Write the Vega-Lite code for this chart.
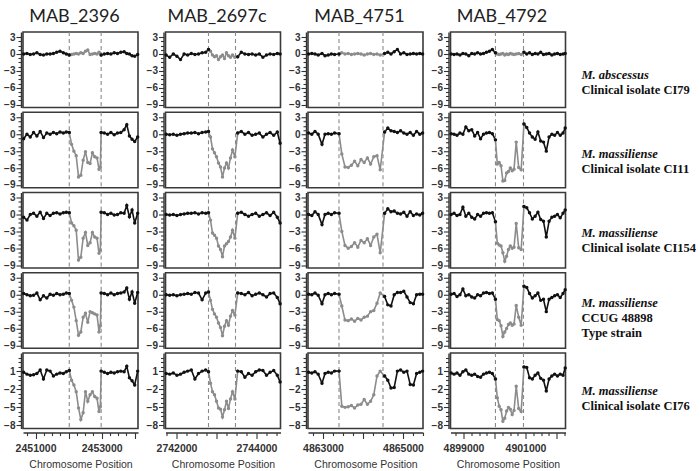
{
"$schema":"https://vega.github.io/schema/vega-lite/v6.json",
"padding":{"left":2,"top":7,"right":0,"bottom":0},
"datasets":{
"d1":[{"x":2452020},{"x":2452985}],
"d2":[{"x":2742800},{"x":2743475}],
"d3":[{"x":4863400},{"x":4864500}],
"d4":[{"x":4900030},{"x":4900935}],
"lab":[
{"r":"1","sp":["M. abscessus","\u00a0"],"st":["\u00a0","Clinical isolate CI79"]},
{"r":"2","sp":["M. massiliense","\u00a0"],"st":["\u00a0","Clinical isolate CI11"]},
{"r":"3","sp":["M. massiliense","\u00a0"],"st":["\u00a0","Clinical isolate CI154"]},
{"r":"4","sp":["M. massiliense","\u00a0","\u00a0"],"st":["\u00a0","CCUG 48898","Type strain"]},
{"r":"5","sp":["M. massiliense","\u00a0"],"st":["\u00a0","Clinical isolate CI76"]}
],
"p11":[{"x":2450640,"y":0,"s":"a"},{"x":2450740,"y":0.1,"s":"a"},{"x":2450840,"y":-0.1,"s":"a"},{"x":2450940,"y":0,"s":"a"},{"x":2451040,"y":0.2,"s":"a"},{"x":2451140,"y":-0.1,"s":"a"},{"x":2451240,"y":-0.2,"s":"a"},{"x":2451340,"y":0,"s":"a"},{"x":2451440,"y":0,"s":"a"},{"x":2451540,"y":0.1,"s":"a"},{"x":2451640,"y":0.3,"s":"a"},{"x":2451740,"y":0.5,"s":"a"},{"x":2451840,"y":0.2,"s":"a"},{"x":2451930,"y":0,"s":"a"},{"x":2452020,"y":-0.2,"s":"a"},
{"x":2452020,"y":-0.2,"s":"g"},{"x":2452090,"y":-0.1,"s":"g"},{"x":2452160,"y":0,"s":"g"},{"x":2452230,"y":0.1,"s":"g"},{"x":2452300,"y":0,"s":"g"},{"x":2452370,"y":0.2,"s":"g"},{"x":2452440,"y":0.1,"s":"g"},{"x":2452510,"y":0.5,"s":"g"},{"x":2452580,"y":0.7,"s":"g"},{"x":2452650,"y":-0.1,"s":"g"},{"x":2452720,"y":0,"s":"g"},{"x":2452790,"y":0.1,"s":"g"},{"x":2452860,"y":0,"s":"g"},{"x":2452920,"y":0.3,"s":"g"},{"x":2452960,"y":0.1,"s":"g"},{"x":2452985,"y":-0.2,"s":"g"},
{"x":2452985,"y":-0.2,"s":"b"},{"x":2453080,"y":0,"s":"b"},{"x":2453180,"y":0.1,"s":"b"},{"x":2453280,"y":0,"s":"b"},{"x":2453380,"y":0.2,"s":"b"},{"x":2453480,"y":0.1,"s":"b"},{"x":2453580,"y":0.3,"s":"b"},{"x":2453680,"y":0.4,"s":"b"},{"x":2453760,"y":0.1,"s":"b"},{"x":2453840,"y":0,"s":"b"},{"x":2453920,"y":-0.3,"s":"b"},{"x":2454000,"y":-0.4,"s":"b"},{"x":2454090,"y":-0.1,"s":"b"}],
"p21":[{"x":2450640,"y":-0.8,"s":"a"},{"x":2450740,"y":0,"s":"a"},{"x":2450840,"y":-0.5,"s":"a"},{"x":2450940,"y":0.3,"s":"a"},{"x":2451040,"y":-0.3,"s":"a"},{"x":2451140,"y":0.5,"s":"a"},{"x":2451240,"y":-0.6,"s":"a"},{"x":2451340,"y":0.2,"s":"a"},{"x":2451440,"y":0,"s":"a"},{"x":2451540,"y":0.3,"s":"a"},{"x":2451640,"y":0.1,"s":"a"},{"x":2451740,"y":0.4,"s":"a"},{"x":2451840,"y":0.2,"s":"a"},{"x":2451930,"y":0.4,"s":"a"},{"x":2452020,"y":0.3,"s":"a"},
{"x":2452020,"y":0.3,"s":"g"},{"x":2452090,"y":-1.8,"s":"g"},{"x":2452160,"y":-3.0,"s":"g"},{"x":2452230,"y":-3.8,"s":"g"},{"x":2452300,"y":-7.6,"s":"g"},{"x":2452370,"y":-7.3,"s":"g"},{"x":2452440,"y":-4.6,"s":"g"},{"x":2452510,"y":-3.1,"s":"g"},{"x":2452580,"y":-5.0,"s":"g"},{"x":2452650,"y":-5.2,"s":"g"},{"x":2452720,"y":-3.3,"s":"g"},{"x":2452790,"y":-4.0,"s":"g"},{"x":2452860,"y":-4.2,"s":"g"},{"x":2452920,"y":-6.2,"s":"g"},{"x":2452960,"y":-5.8,"s":"g"},{"x":2452985,"y":0.3,"s":"g"},
{"x":2452985,"y":0.3,"s":"b"},{"x":2453080,"y":0.2,"s":"b"},{"x":2453180,"y":0,"s":"b"},{"x":2453280,"y":0.3,"s":"b"},{"x":2453380,"y":-0.1,"s":"b"},{"x":2453480,"y":0.2,"s":"b"},{"x":2453580,"y":0.3,"s":"b"},{"x":2453680,"y":0.8,"s":"b"},{"x":2453760,"y":1.7,"s":"b"},{"x":2453840,"y":-0.3,"s":"b"},{"x":2453920,"y":-0.9,"s":"b"},{"x":2454000,"y":-1.3,"s":"b"},{"x":2454090,"y":-0.5,"s":"b"}],
"p31":[{"x":2450640,"y":-0.5,"s":"a"},{"x":2450740,"y":-1.0,"s":"a"},{"x":2450840,"y":0,"s":"a"},{"x":2450940,"y":0.2,"s":"a"},{"x":2451040,"y":-0.3,"s":"a"},{"x":2451140,"y":0.4,"s":"a"},{"x":2451240,"y":-0.7,"s":"a"},{"x":2451340,"y":0.2,"s":"a"},{"x":2451440,"y":-0.2,"s":"a"},{"x":2451540,"y":0.2,"s":"a"},{"x":2451640,"y":0.3,"s":"a"},{"x":2451740,"y":0.1,"s":"a"},{"x":2451840,"y":0.3,"s":"a"},{"x":2451930,"y":0.4,"s":"a"},{"x":2452020,"y":0.3,"s":"a"},
{"x":2452020,"y":0.3,"s":"g"},{"x":2452090,"y":-1.5,"s":"g"},{"x":2452160,"y":-2.0,"s":"g"},{"x":2452230,"y":-2.8,"s":"g"},{"x":2452300,"y":-8.1,"s":"g"},{"x":2452370,"y":-7.6,"s":"g"},{"x":2452440,"y":-4.2,"s":"g"},{"x":2452510,"y":-3.2,"s":"g"},{"x":2452580,"y":-5.5,"s":"g"},{"x":2452650,"y":-5.0,"s":"g"},{"x":2452720,"y":-3.2,"s":"g"},{"x":2452790,"y":-4.0,"s":"g"},{"x":2452860,"y":-4.2,"s":"g"},{"x":2452920,"y":-6.9,"s":"g"},{"x":2452960,"y":-6.3,"s":"g"},{"x":2452985,"y":0.4,"s":"g"},
{"x":2452985,"y":0.4,"s":"b"},{"x":2453080,"y":0.3,"s":"b"},{"x":2453180,"y":0,"s":"b"},{"x":2453280,"y":0.2,"s":"b"},{"x":2453380,"y":-0.1,"s":"b"},{"x":2453480,"y":0,"s":"b"},{"x":2453580,"y":0.3,"s":"b"},{"x":2453680,"y":0.2,"s":"b"},{"x":2453760,"y":1.6,"s":"b"},{"x":2453840,"y":-0.4,"s":"b"},{"x":2453920,"y":0.8,"s":"b"},{"x":2454000,"y":-1.5,"s":"b"},{"x":2454090,"y":0.2,"s":"b"}],
"p41":[{"x":2450640,"y":0.2,"s":"a"},{"x":2450740,"y":0,"s":"a"},{"x":2450840,"y":-0.2,"s":"a"},{"x":2450940,"y":-0.1,"s":"a"},{"x":2451040,"y":0.3,"s":"a"},{"x":2451140,"y":-0.9,"s":"a"},{"x":2451240,"y":-0.2,"s":"a"},{"x":2451340,"y":-0.6,"s":"a"},{"x":2451440,"y":0.1,"s":"a"},{"x":2451540,"y":-0.1,"s":"a"},{"x":2451640,"y":0.2,"s":"a"},{"x":2451740,"y":0,"s":"a"},{"x":2451840,"y":0.1,"s":"a"},{"x":2451930,"y":0.3,"s":"a"},{"x":2452020,"y":0.2,"s":"a"},
{"x":2452020,"y":0.2,"s":"g"},{"x":2452090,"y":-1.0,"s":"g"},{"x":2452160,"y":-2.2,"s":"g"},{"x":2452230,"y":-4.6,"s":"g"},{"x":2452300,"y":-7.2,"s":"g"},{"x":2452370,"y":-6.6,"s":"g"},{"x":2452440,"y":-4.0,"s":"g"},{"x":2452510,"y":-3.3,"s":"g"},{"x":2452580,"y":-4.9,"s":"g"},{"x":2452650,"y":-3.0,"s":"g"},{"x":2452720,"y":-3.2,"s":"g"},{"x":2452790,"y":-3.4,"s":"g"},{"x":2452860,"y":-3.6,"s":"g"},{"x":2452920,"y":-6.6,"s":"g"},{"x":2452960,"y":-5.5,"s":"g"},{"x":2452985,"y":0.3,"s":"g"},
{"x":2452985,"y":0.3,"s":"b"},{"x":2453080,"y":0.2,"s":"b"},{"x":2453180,"y":0,"s":"b"},{"x":2453280,"y":0.3,"s":"b"},{"x":2453380,"y":0,"s":"b"},{"x":2453480,"y":0.2,"s":"b"},{"x":2453580,"y":0.3,"s":"b"},{"x":2453680,"y":0.5,"s":"b"},{"x":2453760,"y":1.2,"s":"b"},{"x":2453840,"y":-0.8,"s":"b"},{"x":2453920,"y":0.5,"s":"b"},{"x":2454000,"y":-1.5,"s":"b"},{"x":2454090,"y":0.4,"s":"b"}],
"p51":[{"x":2450640,"y":0.8,"s":"a"},{"x":2450740,"y":0.5,"s":"a"},{"x":2450840,"y":0.3,"s":"a"},{"x":2450940,"y":0.4,"s":"a"},{"x":2451040,"y":0.6,"s":"a"},{"x":2451140,"y":1.2,"s":"a"},{"x":2451240,"y":-0.3,"s":"a"},{"x":2451340,"y":1.2,"s":"a"},{"x":2451440,"y":1.0,"s":"a"},{"x":2451540,"y":0.2,"s":"a"},{"x":2451640,"y":0.5,"s":"a"},{"x":2451740,"y":0.7,"s":"a"},{"x":2451840,"y":0.6,"s":"a"},{"x":2451930,"y":0.9,"s":"a"},{"x":2452020,"y":1.1,"s":"a"},
{"x":2452020,"y":1.1,"s":"g"},{"x":2452090,"y":-0.5,"s":"g"},{"x":2452160,"y":-1.3,"s":"g"},{"x":2452230,"y":-2.4,"s":"g"},{"x":2452300,"y":-5.1,"s":"g"},{"x":2452370,"y":-7.0,"s":"g"},{"x":2452440,"y":-5.9,"s":"g"},{"x":2452510,"y":-2.4,"s":"g"},{"x":2452580,"y":-4.0,"s":"g"},{"x":2452650,"y":-2.9,"s":"g"},{"x":2452720,"y":-2.4,"s":"g"},{"x":2452790,"y":-3.2,"s":"g"},{"x":2452860,"y":-3.5,"s":"g"},{"x":2452920,"y":-5.7,"s":"g"},{"x":2452960,"y":-4.9,"s":"g"},{"x":2452985,"y":1.0,"s":"g"},
{"x":2452985,"y":1.0,"s":"b"},{"x":2453080,"y":0.8,"s":"b"},{"x":2453180,"y":0.6,"s":"b"},{"x":2453280,"y":0.8,"s":"b"},{"x":2453380,"y":0.7,"s":"b"},{"x":2453480,"y":0.9,"s":"b"},{"x":2453580,"y":1.0,"s":"b"},{"x":2453680,"y":0.9,"s":"b"},{"x":2453760,"y":1.8,"s":"b"},{"x":2453840,"y":-0.1,"s":"b"},{"x":2453920,"y":-0.6,"s":"b"},{"x":2454000,"y":-1.3,"s":"b"},{"x":2454090,"y":1.0,"s":"b"}],
"p12":[{"x":2741740,"y":-0.2,"s":"a"},{"x":2741830,"y":-0.6,"s":"a"},{"x":2741920,"y":0,"s":"a"},{"x":2742010,"y":-0.4,"s":"a"},{"x":2742100,"y":-1.0,"s":"a"},{"x":2742190,"y":0,"s":"a"},{"x":2742280,"y":-0.2,"s":"a"},{"x":2742370,"y":0.1,"s":"a"},{"x":2742460,"y":-0.1,"s":"a"},{"x":2742550,"y":0,"s":"a"},{"x":2742640,"y":0.2,"s":"a"},{"x":2742730,"y":0.3,"s":"a"},{"x":2742800,"y":0.8,"s":"a"},
{"x":2742800,"y":0.8,"s":"g"},{"x":2742850,"y":0.5,"s":"g"},{"x":2742900,"y":-0.2,"s":"g"},{"x":2742950,"y":-0.5,"s":"g"},{"x":2743000,"y":-0.3,"s":"g"},{"x":2743050,"y":-1.0,"s":"g"},{"x":2743100,"y":-0.5,"s":"g"},{"x":2743150,"y":-0.2,"s":"g"},{"x":2743200,"y":-0.8,"s":"g"},{"x":2743250,"y":0.2,"s":"g"},{"x":2743300,"y":-0.3,"s":"g"},{"x":2743350,"y":-0.6,"s":"g"},{"x":2743400,"y":-0.2,"s":"g"},{"x":2743460,"y":-0.6,"s":"g"},{"x":2743530,"y":-0.5,"s":"g"},
{"x":2743530,"y":-0.5,"s":"b"},{"x":2743620,"y":0.3,"s":"b"},{"x":2743710,"y":0,"s":"b"},{"x":2743800,"y":-0.1,"s":"b"},{"x":2743890,"y":0,"s":"b"},{"x":2743980,"y":-0.2,"s":"b"},{"x":2744070,"y":0,"s":"b"},{"x":2744160,"y":-0.6,"s":"b"},{"x":2744250,"y":-0.2,"s":"b"},{"x":2744340,"y":0,"s":"b"},{"x":2744430,"y":-0.1,"s":"b"},{"x":2744520,"y":0.1,"s":"b"},{"x":2744590,"y":0,"s":"b"}],
"p22":[{"x":2741740,"y":0,"s":"a"},{"x":2741830,"y":-0.1,"s":"a"},{"x":2741920,"y":0,"s":"a"},{"x":2742010,"y":-0.2,"s":"a"},{"x":2742100,"y":0,"s":"a"},{"x":2742190,"y":0.1,"s":"a"},{"x":2742280,"y":0.2,"s":"a"},{"x":2742370,"y":0.2,"s":"a"},{"x":2742460,"y":0.3,"s":"a"},{"x":2742550,"y":0.1,"s":"a"},{"x":2742640,"y":0.3,"s":"a"},{"x":2742730,"y":0.4,"s":"a"},{"x":2742800,"y":0.5,"s":"a"},
{"x":2742800,"y":0.5,"s":"g"},{"x":2742850,"y":-0.5,"s":"g"},{"x":2742900,"y":-2.6,"s":"g"},{"x":2742950,"y":-3.3,"s":"g"},{"x":2743000,"y":-4.0,"s":"g"},{"x":2743050,"y":-5.1,"s":"g"},{"x":2743100,"y":-5.8,"s":"g"},{"x":2743150,"y":-7.6,"s":"g"},{"x":2743200,"y":-6.0,"s":"g"},{"x":2743250,"y":-5.1,"s":"g"},{"x":2743300,"y":-6.0,"s":"g"},{"x":2743350,"y":-4.2,"s":"g"},{"x":2743400,"y":-2.8,"s":"g"},{"x":2743460,"y":-4.0,"s":"g"},{"x":2743530,"y":0.2,"s":"g"},
{"x":2743530,"y":0.2,"s":"b"},{"x":2743620,"y":0.5,"s":"b"},{"x":2743710,"y":0,"s":"b"},{"x":2743800,"y":0.3,"s":"b"},{"x":2743890,"y":-0.2,"s":"b"},{"x":2743980,"y":0,"s":"b"},{"x":2744070,"y":0.2,"s":"b"},{"x":2744160,"y":-0.5,"s":"b"},{"x":2744250,"y":0,"s":"b"},{"x":2744340,"y":0.3,"s":"b"},{"x":2744430,"y":-0.2,"s":"b"},{"x":2744520,"y":0.4,"s":"b"},{"x":2744590,"y":-1.6,"s":"b"}],
"p32":[{"x":2741740,"y":0,"s":"a"},{"x":2741830,"y":-0.1,"s":"a"},{"x":2741920,"y":0,"s":"a"},{"x":2742010,"y":-0.2,"s":"a"},{"x":2742100,"y":0,"s":"a"},{"x":2742190,"y":0.1,"s":"a"},{"x":2742280,"y":0.2,"s":"a"},{"x":2742370,"y":0.2,"s":"a"},{"x":2742460,"y":0.3,"s":"a"},{"x":2742550,"y":0.1,"s":"a"},{"x":2742640,"y":0.3,"s":"a"},{"x":2742730,"y":0.2,"s":"a"},{"x":2742800,"y":0.3,"s":"a"},
{"x":2742800,"y":0.3,"s":"g"},{"x":2742850,"y":-1.0,"s":"g"},{"x":2742900,"y":-3.3,"s":"g"},{"x":2742950,"y":-3.7,"s":"g"},{"x":2743000,"y":-4.2,"s":"g"},{"x":2743050,"y":-5.6,"s":"g"},{"x":2743100,"y":-6.2,"s":"g"},{"x":2743150,"y":-7.5,"s":"g"},{"x":2743200,"y":-5.6,"s":"g"},{"x":2743250,"y":-5.2,"s":"g"},{"x":2743300,"y":-4.8,"s":"g"},{"x":2743350,"y":-4.0,"s":"g"},{"x":2743400,"y":-2.8,"s":"g"},{"x":2743460,"y":-4.2,"s":"g"},{"x":2743530,"y":0.2,"s":"g"},
{"x":2743530,"y":0.2,"s":"b"},{"x":2743620,"y":0.4,"s":"b"},{"x":2743710,"y":0,"s":"b"},{"x":2743800,"y":-0.3,"s":"b"},{"x":2743890,"y":0,"s":"b"},{"x":2743980,"y":0.2,"s":"b"},{"x":2744070,"y":-0.3,"s":"b"},{"x":2744160,"y":0,"s":"b"},{"x":2744250,"y":0.3,"s":"b"},{"x":2744340,"y":-0.2,"s":"b"},{"x":2744430,"y":0.4,"s":"b"},{"x":2744520,"y":-0.5,"s":"b"},{"x":2744590,"y":-1.5,"s":"b"}],
"p42":[{"x":2741740,"y":0,"s":"a"},{"x":2741830,"y":-0.1,"s":"a"},{"x":2741920,"y":0,"s":"a"},{"x":2742010,"y":-0.2,"s":"a"},{"x":2742100,"y":0,"s":"a"},{"x":2742190,"y":0.1,"s":"a"},{"x":2742280,"y":0.2,"s":"a"},{"x":2742370,"y":0.1,"s":"a"},{"x":2742460,"y":0.4,"s":"a"},{"x":2742550,"y":0.3,"s":"a"},{"x":2742640,"y":-0.9,"s":"a"},{"x":2742730,"y":0.3,"s":"a"},{"x":2742800,"y":0.5,"s":"a"},
{"x":2742800,"y":0.5,"s":"g"},{"x":2742850,"y":-1.0,"s":"g"},{"x":2742900,"y":-2.6,"s":"g"},{"x":2742950,"y":-3.4,"s":"g"},{"x":2743000,"y":-4.0,"s":"g"},{"x":2743050,"y":-5.0,"s":"g"},{"x":2743100,"y":-5.8,"s":"g"},{"x":2743150,"y":-7.3,"s":"g"},{"x":2743200,"y":-5.6,"s":"g"},{"x":2743250,"y":-4.6,"s":"g"},{"x":2743300,"y":-5.4,"s":"g"},{"x":2743350,"y":-3.8,"s":"g"},{"x":2743400,"y":-2.8,"s":"g"},{"x":2743460,"y":-3.6,"s":"g"},{"x":2743530,"y":0.3,"s":"g"},
{"x":2743530,"y":0.3,"s":"b"},{"x":2743620,"y":0.2,"s":"b"},{"x":2743710,"y":0,"s":"b"},{"x":2743800,"y":0.4,"s":"b"},{"x":2743890,"y":-0.2,"s":"b"},{"x":2743980,"y":0.1,"s":"b"},{"x":2744070,"y":0.3,"s":"b"},{"x":2744160,"y":0,"s":"b"},{"x":2744250,"y":-0.4,"s":"b"},{"x":2744340,"y":0.2,"s":"b"},{"x":2744430,"y":0.3,"s":"b"},{"x":2744520,"y":-0.5,"s":"b"},{"x":2744590,"y":-1.6,"s":"b"}],
"p52":[{"x":2741740,"y":0.6,"s":"a"},{"x":2741830,"y":0.5,"s":"a"},{"x":2741920,"y":0.7,"s":"a"},{"x":2742010,"y":0.3,"s":"a"},{"x":2742100,"y":0.5,"s":"a"},{"x":2742190,"y":0.8,"s":"a"},{"x":2742280,"y":1.0,"s":"a"},{"x":2742370,"y":1.2,"s":"a"},{"x":2742460,"y":-0.3,"s":"a"},{"x":2742550,"y":0.6,"s":"a"},{"x":2742640,"y":1.0,"s":"a"},{"x":2742730,"y":1.2,"s":"a"},{"x":2742800,"y":0.9,"s":"a"},
{"x":2742800,"y":0.9,"s":"g"},{"x":2742850,"y":-1.0,"s":"g"},{"x":2742900,"y":-2.4,"s":"g"},{"x":2742950,"y":-2.9,"s":"g"},{"x":2743000,"y":-4.0,"s":"g"},{"x":2743050,"y":-5.1,"s":"g"},{"x":2743100,"y":-5.3,"s":"g"},{"x":2743150,"y":-6.6,"s":"g"},{"x":2743200,"y":-5.4,"s":"g"},{"x":2743250,"y":-4.0,"s":"g"},{"x":2743300,"y":-5.2,"s":"g"},{"x":2743350,"y":-3.6,"s":"g"},{"x":2743400,"y":-2.4,"s":"g"},{"x":2743460,"y":-3.6,"s":"g"},{"x":2743530,"y":1.0,"s":"g"},
{"x":2743530,"y":1.0,"s":"b"},{"x":2743620,"y":0.9,"s":"b"},{"x":2743710,"y":0,"s":"b"},{"x":2743800,"y":0.6,"s":"b"},{"x":2743890,"y":0.3,"s":"b"},{"x":2743980,"y":0.9,"s":"b"},{"x":2744070,"y":1.2,"s":"b"},{"x":2744160,"y":1.1,"s":"b"},{"x":2744250,"y":0.3,"s":"b"},{"x":2744340,"y":0.8,"s":"b"},{"x":2744430,"y":1.1,"s":"b"},{"x":2744520,"y":0.3,"s":"b"},{"x":2744590,"y":-0.8,"s":"b"}],
"p13":[{"x":4862640,"y":0,"s":"a"},{"x":4862720,"y":0.1,"s":"a"},{"x":4862800,"y":0,"s":"a"},{"x":4862880,"y":-0.2,"s":"a"},{"x":4862975,"y":0.1,"s":"a"},{"x":4863050,"y":-0.3,"s":"a"},{"x":4863130,"y":-0.2,"s":"a"},{"x":4863210,"y":0,"s":"a"},{"x":4863290,"y":-0.1,"s":"a"},{"x":4863400,"y":0,"s":"a"},
{"x":4863400,"y":0,"s":"g"},{"x":4863470,"y":0.2,"s":"g"},{"x":4863550,"y":0,"s":"g"},{"x":4863630,"y":0.1,"s":"g"},{"x":4863710,"y":-0.1,"s":"g"},{"x":4863790,"y":0,"s":"g"},{"x":4863870,"y":0.1,"s":"g"},{"x":4863950,"y":0,"s":"g"},{"x":4864030,"y":-0.2,"s":"g"},{"x":4864110,"y":0,"s":"g"},{"x":4864190,"y":0.1,"s":"g"},{"x":4864270,"y":-0.1,"s":"g"},{"x":4864350,"y":0,"s":"g"},{"x":4864430,"y":-0.2,"s":"g"},{"x":4864540,"y":0.1,"s":"g"},
{"x":4864540,"y":0.1,"s":"b"},{"x":4864620,"y":0.3,"s":"b"},{"x":4864700,"y":0,"s":"b"},{"x":4864780,"y":0.4,"s":"b"},{"x":4864860,"y":0.8,"s":"b"},{"x":4864940,"y":0,"s":"b"},{"x":4865020,"y":0.2,"s":"b"},{"x":4865100,"y":-0.1,"s":"b"},{"x":4865180,"y":0,"s":"b"},{"x":4865260,"y":0.1,"s":"b"},{"x":4865340,"y":0,"s":"b"},{"x":4865420,"y":0.1,"s":"b"},{"x":4865490,"y":0,"s":"b"}],
"p23":[{"x":4862640,"y":0.2,"s":"a"},{"x":4862720,"y":0,"s":"a"},{"x":4862800,"y":0.5,"s":"a"},{"x":4862880,"y":0,"s":"a"},{"x":4862975,"y":-1.8,"s":"a"},{"x":4863050,"y":0,"s":"a"},{"x":4863130,"y":0.1,"s":"a"},{"x":4863210,"y":0,"s":"a"},{"x":4863290,"y":0.2,"s":"a"},{"x":4863400,"y":0.1,"s":"a"},
{"x":4863400,"y":0.1,"s":"g"},{"x":4863470,"y":-3.5,"s":"g"},{"x":4863550,"y":-5.8,"s":"g"},{"x":4863630,"y":-5.9,"s":"g"},{"x":4863710,"y":-5.5,"s":"g"},{"x":4863790,"y":-4.8,"s":"g"},{"x":4863870,"y":-5.6,"s":"g"},{"x":4863950,"y":-4.5,"s":"g"},{"x":4864030,"y":-5.0,"s":"g"},{"x":4864110,"y":-4.2,"s":"g"},{"x":4864190,"y":-5.3,"s":"g"},{"x":4864270,"y":-4.0,"s":"g"},{"x":4864350,"y":-3.8,"s":"g"},{"x":4864430,"y":-6.3,"s":"g"},{"x":4864540,"y":0.4,"s":"g"},
{"x":4864540,"y":0.4,"s":"b"},{"x":4864620,"y":1.1,"s":"b"},{"x":4864700,"y":0.6,"s":"b"},{"x":4864780,"y":0.5,"s":"b"},{"x":4864860,"y":0.3,"s":"b"},{"x":4864940,"y":0.6,"s":"b"},{"x":4865020,"y":0.2,"s":"b"},{"x":4865100,"y":0,"s":"b"},{"x":4865180,"y":0.3,"s":"b"},{"x":4865260,"y":-0.2,"s":"b"},{"x":4865340,"y":0.5,"s":"b"},{"x":4865420,"y":0,"s":"b"},{"x":4865490,"y":0.2,"s":"b"}],
"p33":[{"x":4862640,"y":0,"s":"a"},{"x":4862720,"y":-0.2,"s":"a"},{"x":4862800,"y":0.5,"s":"a"},{"x":4862880,"y":0,"s":"a"},{"x":4862975,"y":-1.8,"s":"a"},{"x":4863050,"y":0,"s":"a"},{"x":4863130,"y":0.2,"s":"a"},{"x":4863210,"y":0,"s":"a"},{"x":4863290,"y":0.3,"s":"a"},{"x":4863400,"y":0.2,"s":"a"},
{"x":4863400,"y":0.2,"s":"g"},{"x":4863470,"y":-3.0,"s":"g"},{"x":4863550,"y":-5.5,"s":"g"},{"x":4863630,"y":-6.0,"s":"g"},{"x":4863710,"y":-5.7,"s":"g"},{"x":4863790,"y":-5.0,"s":"g"},{"x":4863870,"y":-5.8,"s":"g"},{"x":4863950,"y":-4.6,"s":"g"},{"x":4864030,"y":-5.0,"s":"g"},{"x":4864110,"y":-4.3,"s":"g"},{"x":4864190,"y":-5.5,"s":"g"},{"x":4864270,"y":-4.0,"s":"g"},{"x":4864350,"y":-3.5,"s":"g"},{"x":4864430,"y":-6.8,"s":"g"},{"x":4864540,"y":0.2,"s":"g"},
{"x":4864540,"y":0.2,"s":"b"},{"x":4864620,"y":1.0,"s":"b"},{"x":4864700,"y":0.5,"s":"b"},{"x":4864780,"y":0.6,"s":"b"},{"x":4864860,"y":0.2,"s":"b"},{"x":4864940,"y":0.1,"s":"b"},{"x":4865020,"y":0.4,"s":"b"},{"x":4865100,"y":-0.3,"s":"b"},{"x":4865180,"y":0.5,"s":"b"},{"x":4865260,"y":-0.2,"s":"b"},{"x":4865340,"y":0.1,"s":"b"},{"x":4865420,"y":-0.1,"s":"b"},{"x":4865490,"y":0.2,"s":"b"}],
"p43":[{"x":4862640,"y":0.1,"s":"a"},{"x":4862720,"y":0,"s":"a"},{"x":4862800,"y":0.3,"s":"a"},{"x":4862880,"y":-0.1,"s":"a"},{"x":4862975,"y":-1.6,"s":"a"},{"x":4863050,"y":0,"s":"a"},{"x":4863130,"y":0.2,"s":"a"},{"x":4863210,"y":0,"s":"a"},{"x":4863290,"y":0.2,"s":"a"},{"x":4863400,"y":0.1,"s":"a"},
{"x":4863400,"y":0.1,"s":"g"},{"x":4863470,"y":-2.0,"s":"g"},{"x":4863550,"y":-4.5,"s":"g"},{"x":4863630,"y":-4.6,"s":"g"},{"x":4863710,"y":-4.3,"s":"g"},{"x":4863790,"y":-4.7,"s":"g"},{"x":4863870,"y":-4.2,"s":"g"},{"x":4863950,"y":-4.5,"s":"g"},{"x":4864030,"y":-4.0,"s":"g"},{"x":4864110,"y":-3.8,"s":"g"},{"x":4864190,"y":-3.0,"s":"g"},{"x":4864270,"y":-2.8,"s":"g"},{"x":4864350,"y":-1.5,"s":"g"},{"x":4864430,"y":0.3,"s":"g"},{"x":4864540,"y":-0.3,"s":"g"},
{"x":4864540,"y":-0.3,"s":"b"},{"x":4864620,"y":-1.8,"s":"b"},{"x":4864700,"y":-2.0,"s":"b"},{"x":4864780,"y":0,"s":"b"},{"x":4864860,"y":0.4,"s":"b"},{"x":4864940,"y":0.4,"s":"b"},{"x":4865020,"y":0.6,"s":"b"},{"x":4865100,"y":-0.4,"s":"b"},{"x":4865180,"y":-1.4,"s":"b"},{"x":4865260,"y":-1.6,"s":"b"},{"x":4865340,"y":0,"s":"b"},{"x":4865420,"y":0.1,"s":"b"},{"x":4865490,"y":0.1,"s":"b"}],
"p53":[{"x":4862640,"y":0.8,"s":"a"},{"x":4862720,"y":0.7,"s":"a"},{"x":4862800,"y":0.9,"s":"a"},{"x":4862880,"y":0.5,"s":"a"},{"x":4862975,"y":-1.0,"s":"a"},{"x":4863050,"y":0.6,"s":"a"},{"x":4863130,"y":0.8,"s":"a"},{"x":4863210,"y":0.7,"s":"a"},{"x":4863290,"y":1.0,"s":"a"},{"x":4863400,"y":1.0,"s":"a"},
{"x":4863400,"y":1.0,"s":"g"},{"x":4863470,"y":-4.8,"s":"g"},{"x":4863550,"y":-5.0,"s":"g"},{"x":4863630,"y":-4.9,"s":"g"},{"x":4863710,"y":-4.7,"s":"g"},{"x":4863790,"y":-5.1,"s":"g"},{"x":4863870,"y":-4.6,"s":"g"},{"x":4863950,"y":-4.5,"s":"g"},{"x":4864030,"y":-3.7,"s":"g"},{"x":4864110,"y":-4.5,"s":"g"},{"x":4864190,"y":-4.0,"s":"g"},{"x":4864270,"y":-2.9,"s":"g"},{"x":4864350,"y":0.2,"s":"g"},{"x":4864430,"y":1.0,"s":"g"},{"x":4864540,"y":0.2,"s":"g"},
{"x":4864540,"y":0.2,"s":"b"},{"x":4864620,"y":-0.5,"s":"b"},{"x":4864700,"y":-1.8,"s":"b"},{"x":4864780,"y":-1.7,"s":"b"},{"x":4864860,"y":1.0,"s":"b"},{"x":4864940,"y":1.2,"s":"b"},{"x":4865020,"y":0.8,"s":"b"},{"x":4865100,"y":1.0,"s":"b"},{"x":4865180,"y":-1.2,"s":"b"},{"x":4865260,"y":-1.3,"s":"b"},{"x":4865340,"y":0.6,"s":"b"},{"x":4865420,"y":0.8,"s":"b"},{"x":4865490,"y":1.0,"s":"b"}],
"p14":[{"x":4898600,"y":0,"s":"a"},{"x":4898695,"y":-0.1,"s":"a"},{"x":4898790,"y":0,"s":"a"},{"x":4898885,"y":-0.2,"s":"a"},{"x":4898980,"y":0.1,"s":"a"},{"x":4899075,"y":0,"s":"a"},{"x":4899170,"y":-0.3,"s":"a"},{"x":4899265,"y":0.1,"s":"a"},{"x":4899360,"y":0,"s":"a"},{"x":4899455,"y":0.2,"s":"a"},{"x":4899550,"y":0,"s":"a"},{"x":4899645,"y":0.1,"s":"a"},{"x":4899740,"y":0.3,"s":"a"},{"x":4899835,"y":0.5,"s":"a"},{"x":4899930,"y":0.8,"s":"a"},{"x":4900030,"y":0.2,"s":"a"},
{"x":4900030,"y":0.2,"s":"g"},{"x":4900090,"y":0,"s":"g"},{"x":4900150,"y":-0.1,"s":"g"},{"x":4900210,"y":0,"s":"g"},{"x":4900270,"y":0.1,"s":"g"},{"x":4900330,"y":-0.2,"s":"g"},{"x":4900390,"y":0,"s":"g"},{"x":4900450,"y":-0.1,"s":"g"},{"x":4900510,"y":0.1,"s":"g"},{"x":4900570,"y":0,"s":"g"},{"x":4900630,"y":-0.1,"s":"g"},{"x":4900700,"y":0,"s":"g"},{"x":4900780,"y":0.1,"s":"g"},{"x":4900860,"y":-0.1,"s":"g"},{"x":4900950,"y":0.3,"s":"g"},
{"x":4900950,"y":0.3,"s":"b"},{"x":4901040,"y":0,"s":"b"},{"x":4901130,"y":0.2,"s":"b"},{"x":4901220,"y":-0.1,"s":"b"},{"x":4901310,"y":0.1,"s":"b"},{"x":4901400,"y":0,"s":"b"},{"x":4901490,"y":0.3,"s":"b"},{"x":4901580,"y":-0.1,"s":"b"},{"x":4901670,"y":0,"s":"b"},{"x":4901760,"y":0.1,"s":"b"},{"x":4901850,"y":-0.2,"s":"b"},{"x":4901940,"y":0,"s":"b"},{"x":4902030,"y":0.1,"s":"b"},{"x":4902120,"y":-0.1,"s":"b"},{"x":4902210,"y":0,"s":"b"},{"x":4902280,"y":0.1,"s":"b"}],
"p24":[{"x":4898600,"y":0.1,"s":"a"},{"x":4898695,"y":0,"s":"a"},{"x":4898790,"y":-0.2,"s":"a"},{"x":4898885,"y":0.2,"s":"a"},{"x":4898980,"y":0,"s":"a"},{"x":4899075,"y":1.3,"s":"a"},{"x":4899170,"y":0.6,"s":"a"},{"x":4899265,"y":0.8,"s":"a"},{"x":4899360,"y":-0.3,"s":"a"},{"x":4899455,"y":0.3,"s":"a"},{"x":4899550,"y":-0.8,"s":"a"},{"x":4899645,"y":0,"s":"a"},{"x":4899740,"y":0.2,"s":"a"},{"x":4899835,"y":0.3,"s":"a"},{"x":4899930,"y":0.1,"s":"a"},{"x":4900030,"y":-1.0,"s":"a"},
{"x":4900030,"y":-1.0,"s":"g"},{"x":4900090,"y":-5.3,"s":"g"},{"x":4900150,"y":-5.0,"s":"g"},{"x":4900210,"y":-5.6,"s":"g"},{"x":4900270,"y":-8.3,"s":"g"},{"x":4900330,"y":-8.2,"s":"g"},{"x":4900390,"y":-6.9,"s":"g"},{"x":4900450,"y":-6.6,"s":"g"},{"x":4900510,"y":-6.0,"s":"g"},{"x":4900570,"y":-6.5,"s":"g"},{"x":4900630,"y":-6.2,"s":"g"},{"x":4900700,"y":-1.4,"s":"g"},{"x":4900780,"y":-5.9,"s":"g"},{"x":4900860,"y":-6.3,"s":"g"},{"x":4900950,"y":1.8,"s":"g"},
{"x":4900950,"y":1.8,"s":"b"},{"x":4901040,"y":1.2,"s":"b"},{"x":4901130,"y":0.2,"s":"b"},{"x":4901220,"y":-0.5,"s":"b"},{"x":4901310,"y":-0.9,"s":"b"},{"x":4901400,"y":0.4,"s":"b"},{"x":4901490,"y":-1.2,"s":"b"},{"x":4901580,"y":-1.4,"s":"b"},{"x":4901670,"y":-3.0,"s":"b"},{"x":4901760,"y":-0.5,"s":"b"},{"x":4901850,"y":0,"s":"b"},{"x":4901940,"y":-0.2,"s":"b"},{"x":4902030,"y":0.3,"s":"b"},{"x":4902120,"y":-0.2,"s":"b"},{"x":4902210,"y":0.2,"s":"b"},{"x":4902280,"y":1.1,"s":"b"}],
"p34":[{"x":4898600,"y":0,"s":"a"},{"x":4898695,"y":0.2,"s":"a"},{"x":4898790,"y":-0.2,"s":"a"},{"x":4898885,"y":0,"s":"a"},{"x":4898980,"y":1.3,"s":"a"},{"x":4899075,"y":-0.3,"s":"a"},{"x":4899170,"y":0.2,"s":"a"},{"x":4899265,"y":-0.5,"s":"a"},{"x":4899360,"y":-0.8,"s":"a"},{"x":4899455,"y":0,"s":"a"},{"x":4899550,"y":-0.3,"s":"a"},{"x":4899645,"y":0.2,"s":"a"},{"x":4899740,"y":0.3,"s":"a"},{"x":4899835,"y":0.2,"s":"a"},{"x":4899930,"y":0.3,"s":"a"},{"x":4900030,"y":-1.3,"s":"a"},
{"x":4900030,"y":-1.3,"s":"g"},{"x":4900090,"y":-5.1,"s":"g"},{"x":4900150,"y":-5.4,"s":"g"},{"x":4900210,"y":-5.6,"s":"g"},{"x":4900270,"y":-6.8,"s":"g"},{"x":4900330,"y":-8.3,"s":"g"},{"x":4900390,"y":-7.4,"s":"g"},{"x":4900450,"y":-6.2,"s":"g"},{"x":4900510,"y":-5.6,"s":"g"},{"x":4900570,"y":-6.0,"s":"g"},{"x":4900630,"y":-5.8,"s":"g"},{"x":4900700,"y":-1.6,"s":"g"},{"x":4900780,"y":-5.9,"s":"g"},{"x":4900860,"y":-6.2,"s":"g"},{"x":4900950,"y":1.4,"s":"g"},
{"x":4900950,"y":1.4,"s":"b"},{"x":4901040,"y":1.2,"s":"b"},{"x":4901130,"y":0.3,"s":"b"},{"x":4901220,"y":-0.8,"s":"b"},{"x":4901310,"y":-0.3,"s":"b"},{"x":4901400,"y":0.4,"s":"b"},{"x":4901490,"y":-0.9,"s":"b"},{"x":4901580,"y":-1.2,"s":"b"},{"x":4901670,"y":-4.0,"s":"b"},{"x":4901760,"y":-1.2,"s":"b"},{"x":4901850,"y":-0.5,"s":"b"},{"x":4901940,"y":-0.3,"s":"b"},{"x":4902030,"y":0,"s":"b"},{"x":4902120,"y":-0.6,"s":"b"},{"x":4902210,"y":0.2,"s":"b"},{"x":4902280,"y":0.8,"s":"b"}],
"p44":[{"x":4898600,"y":0.1,"s":"a"},{"x":4898695,"y":0.2,"s":"a"},{"x":4898790,"y":-0.3,"s":"a"},{"x":4898885,"y":0,"s":"a"},{"x":4898980,"y":1.0,"s":"a"},{"x":4899075,"y":-0.2,"s":"a"},{"x":4899170,"y":0,"s":"a"},{"x":4899265,"y":-0.4,"s":"a"},{"x":4899360,"y":-0.6,"s":"a"},{"x":4899455,"y":0,"s":"a"},{"x":4899550,"y":-0.2,"s":"a"},{"x":4899645,"y":0.3,"s":"a"},{"x":4899740,"y":0.4,"s":"a"},{"x":4899835,"y":0.2,"s":"a"},{"x":4899930,"y":0.3,"s":"a"},{"x":4900030,"y":-0.8,"s":"a"},
{"x":4900030,"y":-0.8,"s":"g"},{"x":4900090,"y":-4.4,"s":"g"},{"x":4900150,"y":-4.6,"s":"g"},{"x":4900210,"y":-5.5,"s":"g"},{"x":4900270,"y":-7.4,"s":"g"},{"x":4900330,"y":-6.6,"s":"g"},{"x":4900390,"y":-6.0,"s":"g"},{"x":4900450,"y":-5.3,"s":"g"},{"x":4900510,"y":-5.0,"s":"g"},{"x":4900570,"y":-5.4,"s":"g"},{"x":4900630,"y":-5.2,"s":"g"},{"x":4900700,"y":-1.9,"s":"g"},{"x":4900780,"y":-4.0,"s":"g"},{"x":4900860,"y":-5.4,"s":"g"},{"x":4900950,"y":1.5,"s":"g"},
{"x":4900950,"y":1.5,"s":"b"},{"x":4901040,"y":1.3,"s":"b"},{"x":4901130,"y":0.2,"s":"b"},{"x":4901220,"y":-0.6,"s":"b"},{"x":4901310,"y":-0.2,"s":"b"},{"x":4901400,"y":0.3,"s":"b"},{"x":4901490,"y":-1.0,"s":"b"},{"x":4901580,"y":-0.8,"s":"b"},{"x":4901670,"y":-3.0,"s":"b"},{"x":4901760,"y":-0.8,"s":"b"},{"x":4901850,"y":-0.5,"s":"b"},{"x":4901940,"y":-0.2,"s":"b"},{"x":4902030,"y":0,"s":"b"},{"x":4902120,"y":-0.5,"s":"b"},{"x":4902210,"y":0.2,"s":"b"},{"x":4902280,"y":0.9,"s":"b"}],
"p54":[{"x":4898600,"y":0.7,"s":"a"},{"x":4898695,"y":0.5,"s":"a"},{"x":4898790,"y":0.7,"s":"a"},{"x":4898885,"y":0.3,"s":"a"},{"x":4898980,"y":0.9,"s":"a"},{"x":4899075,"y":1.2,"s":"a"},{"x":4899170,"y":0.5,"s":"a"},{"x":4899265,"y":0.3,"s":"a"},{"x":4899360,"y":0.5,"s":"a"},{"x":4899455,"y":0.1,"s":"a"},{"x":4899550,"y":0,"s":"a"},{"x":4899645,"y":0.5,"s":"a"},{"x":4899740,"y":0.7,"s":"a"},{"x":4899835,"y":0.8,"s":"a"},{"x":4899930,"y":0.6,"s":"a"},{"x":4900030,"y":-0.3,"s":"a"},
{"x":4900030,"y":-0.3,"s":"g"},{"x":4900090,"y":-3.4,"s":"g"},{"x":4900150,"y":-4.8,"s":"g"},{"x":4900210,"y":-5.4,"s":"g"},{"x":4900270,"y":-7.3,"s":"g"},{"x":4900330,"y":-6.8,"s":"g"},{"x":4900390,"y":-5.6,"s":"g"},{"x":4900450,"y":-5.0,"s":"g"},{"x":4900510,"y":-5.3,"s":"g"},{"x":4900570,"y":-6.2,"s":"g"},{"x":4900630,"y":-5.5,"s":"g"},{"x":4900700,"y":-1.5,"s":"g"},{"x":4900780,"y":-5.2,"s":"g"},{"x":4900860,"y":-5.7,"s":"g"},{"x":4900950,"y":1.7,"s":"g"},
{"x":4900950,"y":1.7,"s":"b"},{"x":4901040,"y":1.6,"s":"b"},{"x":4901130,"y":-0.1,"s":"b"},{"x":4901220,"y":-0.3,"s":"b"},{"x":4901310,"y":0.3,"s":"b"},{"x":4901400,"y":0.7,"s":"b"},{"x":4901490,"y":-0.2,"s":"b"},{"x":4901580,"y":-0.5,"s":"b"},{"x":4901670,"y":-2.3,"s":"b"},{"x":4901760,"y":-0.3,"s":"b"},{"x":4901850,"y":0.2,"s":"b"},{"x":4901940,"y":0.5,"s":"b"},{"x":4902030,"y":0.2,"s":"b"},{"x":4902120,"y":0.5,"s":"b"},{"x":4902210,"y":0.3,"s":"b"},{"x":4902280,"y":1.5,"s":"b"}]
},
"hconcat":[
{"hconcat":[
{"vconcat":[
{"title":"MAB_2396","width":115,"height":75.5,"data":{"name":"p11"},"encoding":{"x":{"field":"x","type":"quantitative","scale":{"domain":[2450620,2454100],"nice":false},"axis":null}},"layer":[{"data":{"name":"d1"},"mark":"rule","encoding":{}},{"mark":"line","encoding":{"y":{"field":"y","type":"quantitative","title":null,"scale":{"domain":[-9.5,3.9],"nice":false},"axis":{"values":[-9,-8.25,-7.5,-6.75,-6,-5.25,-4.5,-3.75,-3,-2.25,-1.5,-0.75,0,0.75,1.5,2.25,3],"labelExpr":"datum.value % 3 == 0 ? datum.label : ''","tickSize":{"condition":{"test":"datum.value % 3 == 0","value":5},"value":3}}},"color":{"field":"s","type":"nominal"}}},{"mark":"point","encoding":{"y":{"field":"y","type":"quantitative","title":null,"scale":{"domain":[-9.5,3.9],"nice":false},"axis":{"values":[-9,-8.25,-7.5,-6.75,-6,-5.25,-4.5,-3.75,-3,-2.25,-1.5,-0.75,0,0.75,1.5,2.25,3],"labelExpr":"datum.value % 3 == 0 ? datum.label : ''","tickSize":{"condition":{"test":"datum.value % 3 == 0","value":5},"value":3}}},"color":{"field":"s","type":"nominal"},"order":{"field":"s","type":"ordinal","sort":"descending"}}}]},
{"width":115,"height":75.5,"data":{"name":"p21"},"encoding":{"x":{"field":"x","type":"quantitative","scale":{"domain":[2450620,2454100],"nice":false},"axis":null}},"layer":[{"data":{"name":"d1"},"mark":"rule","encoding":{}},{"mark":"line","encoding":{"y":{"field":"y","type":"quantitative","title":null,"scale":{"domain":[-9.5,3.9],"nice":false},"axis":{"values":[-9,-8.25,-7.5,-6.75,-6,-5.25,-4.5,-3.75,-3,-2.25,-1.5,-0.75,0,0.75,1.5,2.25,3],"labelExpr":"datum.value % 3 == 0 ? datum.label : ''","tickSize":{"condition":{"test":"datum.value % 3 == 0","value":5},"value":3}}},"color":{"field":"s","type":"nominal"}}},{"mark":"point","encoding":{"y":{"field":"y","type":"quantitative","title":null,"scale":{"domain":[-9.5,3.9],"nice":false},"axis":{"values":[-9,-8.25,-7.5,-6.75,-6,-5.25,-4.5,-3.75,-3,-2.25,-1.5,-0.75,0,0.75,1.5,2.25,3],"labelExpr":"datum.value % 3 == 0 ? datum.label : ''","tickSize":{"condition":{"test":"datum.value % 3 == 0","value":5},"value":3}}},"color":{"field":"s","type":"nominal"},"order":{"field":"s","type":"ordinal","sort":"descending"}}}]},
{"width":115,"height":75.5,"data":{"name":"p31"},"encoding":{"x":{"field":"x","type":"quantitative","scale":{"domain":[2450620,2454100],"nice":false},"axis":null}},"layer":[{"data":{"name":"d1"},"mark":"rule","encoding":{}},{"mark":"line","encoding":{"y":{"field":"y","type":"quantitative","title":null,"scale":{"domain":[-9.5,3.9],"nice":false},"axis":{"values":[-9,-8.25,-7.5,-6.75,-6,-5.25,-4.5,-3.75,-3,-2.25,-1.5,-0.75,0,0.75,1.5,2.25,3],"labelExpr":"datum.value % 3 == 0 ? datum.label : ''","tickSize":{"condition":{"test":"datum.value % 3 == 0","value":5},"value":3}}},"color":{"field":"s","type":"nominal"}}},{"mark":"point","encoding":{"y":{"field":"y","type":"quantitative","title":null,"scale":{"domain":[-9.5,3.9],"nice":false},"axis":{"values":[-9,-8.25,-7.5,-6.75,-6,-5.25,-4.5,-3.75,-3,-2.25,-1.5,-0.75,0,0.75,1.5,2.25,3],"labelExpr":"datum.value % 3 == 0 ? datum.label : ''","tickSize":{"condition":{"test":"datum.value % 3 == 0","value":5},"value":3}}},"color":{"field":"s","type":"nominal"},"order":{"field":"s","type":"ordinal","sort":"descending"}}}]},
{"width":115,"height":75.5,"data":{"name":"p41"},"encoding":{"x":{"field":"x","type":"quantitative","scale":{"domain":[2450620,2454100],"nice":false},"axis":null}},"layer":[{"data":{"name":"d1"},"mark":"rule","encoding":{}},{"mark":"line","encoding":{"y":{"field":"y","type":"quantitative","title":null,"scale":{"domain":[-9.5,3.9],"nice":false},"axis":{"values":[-9,-8.25,-7.5,-6.75,-6,-5.25,-4.5,-3.75,-3,-2.25,-1.5,-0.75,0,0.75,1.5,2.25,3],"labelExpr":"datum.value % 3 == 0 ? datum.label : ''","tickSize":{"condition":{"test":"datum.value % 3 == 0","value":5},"value":3}}},"color":{"field":"s","type":"nominal"}}},{"mark":"point","encoding":{"y":{"field":"y","type":"quantitative","title":null,"scale":{"domain":[-9.5,3.9],"nice":false},"axis":{"values":[-9,-8.25,-7.5,-6.75,-6,-5.25,-4.5,-3.75,-3,-2.25,-1.5,-0.75,0,0.75,1.5,2.25,3],"labelExpr":"datum.value % 3 == 0 ? datum.label : ''","tickSize":{"condition":{"test":"datum.value % 3 == 0","value":5},"value":3}}},"color":{"field":"s","type":"nominal"},"order":{"field":"s","type":"ordinal","sort":"descending"}}}]},
{"width":115,"height":75.5,"data":{"name":"p51"},"encoding":{"x":{"field":"x","type":"quantitative","title":"Chromosome Position","scale":{"domain":[2450620,2454100],"nice":false},"axis":{"values":[2450750,2451000,2451250,2451500,2451750,2452000,2452250,2452500,2452750,2453000,2453250,2453500,2453750,2454000],"format":"d","labelExpr":"datum.value % 2000 == 1000 ? datum.label : ''","tickSize":{"condition":{"test":"datum.value % 1000 == 0","value":6},"value":3}}}},"layer":[{"data":{"name":"d1"},"mark":"rule","encoding":{}},{"mark":"line","encoding":{"y":{"field":"y","type":"quantitative","title":null,"scale":{"domain":[-8.5,4],"nice":false},"axis":{"values":[-8,-7.25,-6.5,-5.75,-5,-4.25,-3.5,-2.75,-2,-1.25,-0.5,0.25,1,1.75,2.5,3.25],"labelExpr":"(datum.value + 8) % 3 == 0 ? datum.label : ''","tickSize":{"condition":{"test":"(datum.value + 8) % 3 == 0","value":5},"value":3}}},"color":{"field":"s","type":"nominal"}}},{"mark":"point","encoding":{"y":{"field":"y","type":"quantitative","title":null,"scale":{"domain":[-8.5,4],"nice":false},"axis":{"values":[-8,-7.25,-6.5,-5.75,-5,-4.25,-3.5,-2.75,-2,-1.25,-0.5,0.25,1,1.75,2.5,3.25],"labelExpr":"(datum.value + 8) % 3 == 0 ? datum.label : ''","tickSize":{"condition":{"test":"(datum.value + 8) % 3 == 0","value":5},"value":3}}},"color":{"field":"s","type":"nominal"},"order":{"field":"s","type":"ordinal","sort":"descending"}}}]}
],"spacing":4.25,"bounds":"flush"},
{"vconcat":[
{"title":"MAB_2697c","width":115,"height":75.5,"data":{"name":"p12"},"encoding":{"x":{"field":"x","type":"quantitative","scale":{"domain":[2741725,2744600],"nice":false},"axis":null}},"layer":[{"data":{"name":"d2"},"mark":"rule","encoding":{}},{"mark":"line","encoding":{"y":{"field":"y","type":"quantitative","title":null,"scale":{"domain":[-9.5,3.9],"nice":false},"axis":{"values":[-9,-8.25,-7.5,-6.75,-6,-5.25,-4.5,-3.75,-3,-2.25,-1.5,-0.75,0,0.75,1.5,2.25,3],"labelExpr":"datum.value % 3 == 0 ? datum.label : ''","tickSize":{"condition":{"test":"datum.value % 3 == 0","value":5},"value":3}}},"color":{"field":"s","type":"nominal"}}},{"mark":"point","encoding":{"y":{"field":"y","type":"quantitative","title":null,"scale":{"domain":[-9.5,3.9],"nice":false},"axis":{"values":[-9,-8.25,-7.5,-6.75,-6,-5.25,-4.5,-3.75,-3,-2.25,-1.5,-0.75,0,0.75,1.5,2.25,3],"labelExpr":"datum.value % 3 == 0 ? datum.label : ''","tickSize":{"condition":{"test":"datum.value % 3 == 0","value":5},"value":3}}},"color":{"field":"s","type":"nominal"},"order":{"field":"s","type":"ordinal","sort":"descending"}}}]},
{"width":115,"height":75.5,"data":{"name":"p22"},"encoding":{"x":{"field":"x","type":"quantitative","scale":{"domain":[2741725,2744600],"nice":false},"axis":null}},"layer":[{"data":{"name":"d2"},"mark":"rule","encoding":{}},{"mark":"line","encoding":{"y":{"field":"y","type":"quantitative","title":null,"scale":{"domain":[-9.5,3.9],"nice":false},"axis":{"values":[-9,-8.25,-7.5,-6.75,-6,-5.25,-4.5,-3.75,-3,-2.25,-1.5,-0.75,0,0.75,1.5,2.25,3],"labelExpr":"datum.value % 3 == 0 ? datum.label : ''","tickSize":{"condition":{"test":"datum.value % 3 == 0","value":5},"value":3}}},"color":{"field":"s","type":"nominal"}}},{"mark":"point","encoding":{"y":{"field":"y","type":"quantitative","title":null,"scale":{"domain":[-9.5,3.9],"nice":false},"axis":{"values":[-9,-8.25,-7.5,-6.75,-6,-5.25,-4.5,-3.75,-3,-2.25,-1.5,-0.75,0,0.75,1.5,2.25,3],"labelExpr":"datum.value % 3 == 0 ? datum.label : ''","tickSize":{"condition":{"test":"datum.value % 3 == 0","value":5},"value":3}}},"color":{"field":"s","type":"nominal"},"order":{"field":"s","type":"ordinal","sort":"descending"}}}]},
{"width":115,"height":75.5,"data":{"name":"p32"},"encoding":{"x":{"field":"x","type":"quantitative","scale":{"domain":[2741725,2744600],"nice":false},"axis":null}},"layer":[{"data":{"name":"d2"},"mark":"rule","encoding":{}},{"mark":"line","encoding":{"y":{"field":"y","type":"quantitative","title":null,"scale":{"domain":[-9.5,3.9],"nice":false},"axis":{"values":[-9,-8.25,-7.5,-6.75,-6,-5.25,-4.5,-3.75,-3,-2.25,-1.5,-0.75,0,0.75,1.5,2.25,3],"labelExpr":"datum.value % 3 == 0 ? datum.label : ''","tickSize":{"condition":{"test":"datum.value % 3 == 0","value":5},"value":3}}},"color":{"field":"s","type":"nominal"}}},{"mark":"point","encoding":{"y":{"field":"y","type":"quantitative","title":null,"scale":{"domain":[-9.5,3.9],"nice":false},"axis":{"values":[-9,-8.25,-7.5,-6.75,-6,-5.25,-4.5,-3.75,-3,-2.25,-1.5,-0.75,0,0.75,1.5,2.25,3],"labelExpr":"datum.value % 3 == 0 ? datum.label : ''","tickSize":{"condition":{"test":"datum.value % 3 == 0","value":5},"value":3}}},"color":{"field":"s","type":"nominal"},"order":{"field":"s","type":"ordinal","sort":"descending"}}}]},
{"width":115,"height":75.5,"data":{"name":"p42"},"encoding":{"x":{"field":"x","type":"quantitative","scale":{"domain":[2741725,2744600],"nice":false},"axis":null}},"layer":[{"data":{"name":"d2"},"mark":"rule","encoding":{}},{"mark":"line","encoding":{"y":{"field":"y","type":"quantitative","title":null,"scale":{"domain":[-9.5,3.9],"nice":false},"axis":{"values":[-9,-8.25,-7.5,-6.75,-6,-5.25,-4.5,-3.75,-3,-2.25,-1.5,-0.75,0,0.75,1.5,2.25,3],"labelExpr":"datum.value % 3 == 0 ? datum.label : ''","tickSize":{"condition":{"test":"datum.value % 3 == 0","value":5},"value":3}}},"color":{"field":"s","type":"nominal"}}},{"mark":"point","encoding":{"y":{"field":"y","type":"quantitative","title":null,"scale":{"domain":[-9.5,3.9],"nice":false},"axis":{"values":[-9,-8.25,-7.5,-6.75,-6,-5.25,-4.5,-3.75,-3,-2.25,-1.5,-0.75,0,0.75,1.5,2.25,3],"labelExpr":"datum.value % 3 == 0 ? datum.label : ''","tickSize":{"condition":{"test":"datum.value % 3 == 0","value":5},"value":3}}},"color":{"field":"s","type":"nominal"},"order":{"field":"s","type":"ordinal","sort":"descending"}}}]},
{"width":115,"height":75.5,"data":{"name":"p52"},"encoding":{"x":{"field":"x","type":"quantitative","title":"Chromosome Position","scale":{"domain":[2741725,2744600],"nice":false},"axis":{"values":[2741750,2742000,2742250,2742500,2742750,2743000,2743250,2743500,2743750,2744000,2744250,2744500],"format":"d","labelExpr":"datum.value % 2000 == 0 ? datum.label : ''","tickSize":{"condition":{"test":"datum.value % 1000 == 0","value":6},"value":3}}}},"layer":[{"data":{"name":"d2"},"mark":"rule","encoding":{}},{"mark":"line","encoding":{"y":{"field":"y","type":"quantitative","title":null,"scale":{"domain":[-8.5,4],"nice":false},"axis":{"values":[-8,-7.25,-6.5,-5.75,-5,-4.25,-3.5,-2.75,-2,-1.25,-0.5,0.25,1,1.75,2.5,3.25],"labelExpr":"(datum.value + 8) % 3 == 0 ? datum.label : ''","tickSize":{"condition":{"test":"(datum.value + 8) % 3 == 0","value":5},"value":3}}},"color":{"field":"s","type":"nominal"}}},{"mark":"point","encoding":{"y":{"field":"y","type":"quantitative","title":null,"scale":{"domain":[-8.5,4],"nice":false},"axis":{"values":[-8,-7.25,-6.5,-5.75,-5,-4.25,-3.5,-2.75,-2,-1.25,-0.5,0.25,1,1.75,2.5,3.25],"labelExpr":"(datum.value + 8) % 3 == 0 ? datum.label : ''","tickSize":{"condition":{"test":"(datum.value + 8) % 3 == 0","value":5},"value":3}}},"color":{"field":"s","type":"nominal"},"order":{"field":"s","type":"ordinal","sort":"descending"}}}]}
],"spacing":4.25,"bounds":"flush"},
{"vconcat":[
{"title":"MAB_4751","width":115,"height":75.5,"data":{"name":"p13"},"encoding":{"x":{"field":"x","type":"quantitative","scale":{"domain":[4862625,4865500],"nice":false},"axis":null}},"layer":[{"data":{"name":"d3"},"mark":"rule","encoding":{}},{"mark":"line","encoding":{"y":{"field":"y","type":"quantitative","title":null,"scale":{"domain":[-9.5,3.9],"nice":false},"axis":{"values":[-9,-8.25,-7.5,-6.75,-6,-5.25,-4.5,-3.75,-3,-2.25,-1.5,-0.75,0,0.75,1.5,2.25,3],"labelExpr":"datum.value % 3 == 0 ? datum.label : ''","tickSize":{"condition":{"test":"datum.value % 3 == 0","value":5},"value":3}}},"color":{"field":"s","type":"nominal"}}},{"mark":"point","encoding":{"y":{"field":"y","type":"quantitative","title":null,"scale":{"domain":[-9.5,3.9],"nice":false},"axis":{"values":[-9,-8.25,-7.5,-6.75,-6,-5.25,-4.5,-3.75,-3,-2.25,-1.5,-0.75,0,0.75,1.5,2.25,3],"labelExpr":"datum.value % 3 == 0 ? datum.label : ''","tickSize":{"condition":{"test":"datum.value % 3 == 0","value":5},"value":3}}},"color":{"field":"s","type":"nominal"},"order":{"field":"s","type":"ordinal","sort":"descending"}}}]},
{"width":115,"height":75.5,"data":{"name":"p23"},"encoding":{"x":{"field":"x","type":"quantitative","scale":{"domain":[4862625,4865500],"nice":false},"axis":null}},"layer":[{"data":{"name":"d3"},"mark":"rule","encoding":{}},{"mark":"line","encoding":{"y":{"field":"y","type":"quantitative","title":null,"scale":{"domain":[-9.5,3.9],"nice":false},"axis":{"values":[-9,-8.25,-7.5,-6.75,-6,-5.25,-4.5,-3.75,-3,-2.25,-1.5,-0.75,0,0.75,1.5,2.25,3],"labelExpr":"datum.value % 3 == 0 ? datum.label : ''","tickSize":{"condition":{"test":"datum.value % 3 == 0","value":5},"value":3}}},"color":{"field":"s","type":"nominal"}}},{"mark":"point","encoding":{"y":{"field":"y","type":"quantitative","title":null,"scale":{"domain":[-9.5,3.9],"nice":false},"axis":{"values":[-9,-8.25,-7.5,-6.75,-6,-5.25,-4.5,-3.75,-3,-2.25,-1.5,-0.75,0,0.75,1.5,2.25,3],"labelExpr":"datum.value % 3 == 0 ? datum.label : ''","tickSize":{"condition":{"test":"datum.value % 3 == 0","value":5},"value":3}}},"color":{"field":"s","type":"nominal"},"order":{"field":"s","type":"ordinal","sort":"descending"}}}]},
{"width":115,"height":75.5,"data":{"name":"p33"},"encoding":{"x":{"field":"x","type":"quantitative","scale":{"domain":[4862625,4865500],"nice":false},"axis":null}},"layer":[{"data":{"name":"d3"},"mark":"rule","encoding":{}},{"mark":"line","encoding":{"y":{"field":"y","type":"quantitative","title":null,"scale":{"domain":[-9.5,3.9],"nice":false},"axis":{"values":[-9,-8.25,-7.5,-6.75,-6,-5.25,-4.5,-3.75,-3,-2.25,-1.5,-0.75,0,0.75,1.5,2.25,3],"labelExpr":"datum.value % 3 == 0 ? datum.label : ''","tickSize":{"condition":{"test":"datum.value % 3 == 0","value":5},"value":3}}},"color":{"field":"s","type":"nominal"}}},{"mark":"point","encoding":{"y":{"field":"y","type":"quantitative","title":null,"scale":{"domain":[-9.5,3.9],"nice":false},"axis":{"values":[-9,-8.25,-7.5,-6.75,-6,-5.25,-4.5,-3.75,-3,-2.25,-1.5,-0.75,0,0.75,1.5,2.25,3],"labelExpr":"datum.value % 3 == 0 ? datum.label : ''","tickSize":{"condition":{"test":"datum.value % 3 == 0","value":5},"value":3}}},"color":{"field":"s","type":"nominal"},"order":{"field":"s","type":"ordinal","sort":"descending"}}}]},
{"width":115,"height":75.5,"data":{"name":"p43"},"encoding":{"x":{"field":"x","type":"quantitative","scale":{"domain":[4862625,4865500],"nice":false},"axis":null}},"layer":[{"data":{"name":"d3"},"mark":"rule","encoding":{}},{"mark":"line","encoding":{"y":{"field":"y","type":"quantitative","title":null,"scale":{"domain":[-9.5,3.9],"nice":false},"axis":{"values":[-9,-8.25,-7.5,-6.75,-6,-5.25,-4.5,-3.75,-3,-2.25,-1.5,-0.75,0,0.75,1.5,2.25,3],"labelExpr":"datum.value % 3 == 0 ? datum.label : ''","tickSize":{"condition":{"test":"datum.value % 3 == 0","value":5},"value":3}}},"color":{"field":"s","type":"nominal"}}},{"mark":"point","encoding":{"y":{"field":"y","type":"quantitative","title":null,"scale":{"domain":[-9.5,3.9],"nice":false},"axis":{"values":[-9,-8.25,-7.5,-6.75,-6,-5.25,-4.5,-3.75,-3,-2.25,-1.5,-0.75,0,0.75,1.5,2.25,3],"labelExpr":"datum.value % 3 == 0 ? datum.label : ''","tickSize":{"condition":{"test":"datum.value % 3 == 0","value":5},"value":3}}},"color":{"field":"s","type":"nominal"},"order":{"field":"s","type":"ordinal","sort":"descending"}}}]},
{"width":115,"height":75.5,"data":{"name":"p53"},"encoding":{"x":{"field":"x","type":"quantitative","title":"Chromosome Position","scale":{"domain":[4862625,4865500],"nice":false},"axis":{"values":[4862750,4863000,4863250,4863500,4863750,4864000,4864250,4864500,4864750,4865000,4865250,4865500],"format":"d","labelExpr":"datum.value % 2000 == 1000 ? datum.label : ''","tickSize":{"condition":{"test":"datum.value % 1000 == 0","value":6},"value":3}}}},"layer":[{"data":{"name":"d3"},"mark":"rule","encoding":{}},{"mark":"line","encoding":{"y":{"field":"y","type":"quantitative","title":null,"scale":{"domain":[-8.5,4],"nice":false},"axis":{"values":[-8,-7.25,-6.5,-5.75,-5,-4.25,-3.5,-2.75,-2,-1.25,-0.5,0.25,1,1.75,2.5,3.25],"labelExpr":"(datum.value + 8) % 3 == 0 ? datum.label : ''","tickSize":{"condition":{"test":"(datum.value + 8) % 3 == 0","value":5},"value":3}}},"color":{"field":"s","type":"nominal"}}},{"mark":"point","encoding":{"y":{"field":"y","type":"quantitative","title":null,"scale":{"domain":[-8.5,4],"nice":false},"axis":{"values":[-8,-7.25,-6.5,-5.75,-5,-4.25,-3.5,-2.75,-2,-1.25,-0.5,0.25,1,1.75,2.5,3.25],"labelExpr":"(datum.value + 8) % 3 == 0 ? datum.label : ''","tickSize":{"condition":{"test":"(datum.value + 8) % 3 == 0","value":5},"value":3}}},"color":{"field":"s","type":"nominal"},"order":{"field":"s","type":"ordinal","sort":"descending"}}}]}
],"spacing":4.25,"bounds":"flush"},
{"vconcat":[
{"title":"MAB_4792","width":115,"height":75.5,"data":{"name":"p14"},"encoding":{"x":{"field":"x","type":"quantitative","scale":{"domain":[4898580,4902290],"nice":false},"axis":null}},"layer":[{"data":{"name":"d4"},"mark":"rule","encoding":{}},{"mark":"line","encoding":{"y":{"field":"y","type":"quantitative","title":null,"scale":{"domain":[-9.5,3.9],"nice":false},"axis":{"values":[-9,-8.25,-7.5,-6.75,-6,-5.25,-4.5,-3.75,-3,-2.25,-1.5,-0.75,0,0.75,1.5,2.25,3],"labelExpr":"datum.value % 3 == 0 ? datum.label : ''","tickSize":{"condition":{"test":"datum.value % 3 == 0","value":5},"value":3}}},"color":{"field":"s","type":"nominal"}}},{"mark":"point","encoding":{"y":{"field":"y","type":"quantitative","title":null,"scale":{"domain":[-9.5,3.9],"nice":false},"axis":{"values":[-9,-8.25,-7.5,-6.75,-6,-5.25,-4.5,-3.75,-3,-2.25,-1.5,-0.75,0,0.75,1.5,2.25,3],"labelExpr":"datum.value % 3 == 0 ? datum.label : ''","tickSize":{"condition":{"test":"datum.value % 3 == 0","value":5},"value":3}}},"color":{"field":"s","type":"nominal"},"order":{"field":"s","type":"ordinal","sort":"descending"}}}]},
{"width":115,"height":75.5,"data":{"name":"p24"},"encoding":{"x":{"field":"x","type":"quantitative","scale":{"domain":[4898580,4902290],"nice":false},"axis":null}},"layer":[{"data":{"name":"d4"},"mark":"rule","encoding":{}},{"mark":"line","encoding":{"y":{"field":"y","type":"quantitative","title":null,"scale":{"domain":[-9.5,3.9],"nice":false},"axis":{"values":[-9,-8.25,-7.5,-6.75,-6,-5.25,-4.5,-3.75,-3,-2.25,-1.5,-0.75,0,0.75,1.5,2.25,3],"labelExpr":"datum.value % 3 == 0 ? datum.label : ''","tickSize":{"condition":{"test":"datum.value % 3 == 0","value":5},"value":3}}},"color":{"field":"s","type":"nominal"}}},{"mark":"point","encoding":{"y":{"field":"y","type":"quantitative","title":null,"scale":{"domain":[-9.5,3.9],"nice":false},"axis":{"values":[-9,-8.25,-7.5,-6.75,-6,-5.25,-4.5,-3.75,-3,-2.25,-1.5,-0.75,0,0.75,1.5,2.25,3],"labelExpr":"datum.value % 3 == 0 ? datum.label : ''","tickSize":{"condition":{"test":"datum.value % 3 == 0","value":5},"value":3}}},"color":{"field":"s","type":"nominal"},"order":{"field":"s","type":"ordinal","sort":"descending"}}}]},
{"width":115,"height":75.5,"data":{"name":"p34"},"encoding":{"x":{"field":"x","type":"quantitative","scale":{"domain":[4898580,4902290],"nice":false},"axis":null}},"layer":[{"data":{"name":"d4"},"mark":"rule","encoding":{}},{"mark":"line","encoding":{"y":{"field":"y","type":"quantitative","title":null,"scale":{"domain":[-9.5,3.9],"nice":false},"axis":{"values":[-9,-8.25,-7.5,-6.75,-6,-5.25,-4.5,-3.75,-3,-2.25,-1.5,-0.75,0,0.75,1.5,2.25,3],"labelExpr":"datum.value % 3 == 0 ? datum.label : ''","tickSize":{"condition":{"test":"datum.value % 3 == 0","value":5},"value":3}}},"color":{"field":"s","type":"nominal"}}},{"mark":"point","encoding":{"y":{"field":"y","type":"quantitative","title":null,"scale":{"domain":[-9.5,3.9],"nice":false},"axis":{"values":[-9,-8.25,-7.5,-6.75,-6,-5.25,-4.5,-3.75,-3,-2.25,-1.5,-0.75,0,0.75,1.5,2.25,3],"labelExpr":"datum.value % 3 == 0 ? datum.label : ''","tickSize":{"condition":{"test":"datum.value % 3 == 0","value":5},"value":3}}},"color":{"field":"s","type":"nominal"},"order":{"field":"s","type":"ordinal","sort":"descending"}}}]},
{"width":115,"height":75.5,"data":{"name":"p44"},"encoding":{"x":{"field":"x","type":"quantitative","scale":{"domain":[4898580,4902290],"nice":false},"axis":null}},"layer":[{"data":{"name":"d4"},"mark":"rule","encoding":{}},{"mark":"line","encoding":{"y":{"field":"y","type":"quantitative","title":null,"scale":{"domain":[-9.5,3.9],"nice":false},"axis":{"values":[-9,-8.25,-7.5,-6.75,-6,-5.25,-4.5,-3.75,-3,-2.25,-1.5,-0.75,0,0.75,1.5,2.25,3],"labelExpr":"datum.value % 3 == 0 ? datum.label : ''","tickSize":{"condition":{"test":"datum.value % 3 == 0","value":5},"value":3}}},"color":{"field":"s","type":"nominal"}}},{"mark":"point","encoding":{"y":{"field":"y","type":"quantitative","title":null,"scale":{"domain":[-9.5,3.9],"nice":false},"axis":{"values":[-9,-8.25,-7.5,-6.75,-6,-5.25,-4.5,-3.75,-3,-2.25,-1.5,-0.75,0,0.75,1.5,2.25,3],"labelExpr":"datum.value % 3 == 0 ? datum.label : ''","tickSize":{"condition":{"test":"datum.value % 3 == 0","value":5},"value":3}}},"color":{"field":"s","type":"nominal"},"order":{"field":"s","type":"ordinal","sort":"descending"}}}]},
{"width":115,"height":75.5,"data":{"name":"p54"},"encoding":{"x":{"field":"x","type":"quantitative","title":"Chromosome Position","scale":{"domain":[4898580,4902290],"nice":false},"axis":{"values":[4898750,4899000,4899250,4899500,4899750,4900000,4900250,4900500,4900750,4901000,4901250,4901500,4901750,4902000,4902250],"format":"d","labelExpr":"datum.value % 2000 == 1000 ? datum.label : ''","tickSize":{"condition":{"test":"datum.value % 1000 == 0","value":6},"value":3}}}},"layer":[{"data":{"name":"d4"},"mark":"rule","encoding":{}},{"mark":"line","encoding":{"y":{"field":"y","type":"quantitative","title":null,"scale":{"domain":[-8.5,4],"nice":false},"axis":{"values":[-8,-7.25,-6.5,-5.75,-5,-4.25,-3.5,-2.75,-2,-1.25,-0.5,0.25,1,1.75,2.5,3.25],"labelExpr":"(datum.value + 8) % 3 == 0 ? datum.label : ''","tickSize":{"condition":{"test":"(datum.value + 8) % 3 == 0","value":5},"value":3}}},"color":{"field":"s","type":"nominal"}}},{"mark":"point","encoding":{"y":{"field":"y","type":"quantitative","title":null,"scale":{"domain":[-8.5,4],"nice":false},"axis":{"values":[-8,-7.25,-6.5,-5.75,-5,-4.25,-3.5,-2.75,-2,-1.25,-0.5,0.25,1,1.75,2.5,3.25],"labelExpr":"(datum.value + 8) % 3 == 0 ? datum.label : ''","tickSize":{"condition":{"test":"(datum.value + 8) % 3 == 0","value":5},"value":3}}},"color":{"field":"s","type":"nominal"},"order":{"field":"s","type":"ordinal","sort":"descending"}}}]}
],"spacing":4.25,"bounds":"flush"}
],"spacing":2.5},
{"width":115,"height":394.5,"view":{"stroke":null},"data":{"name":"lab"},
 "encoding":{"y":{"field":"r","type":"ordinal","axis":null,"scale":{"paddingInner":0.0533,"paddingOuter":0}},"x":{"datum":0,"type":"quantitative","scale":{"domain":[0,1]},"axis":null}},
 "layer":[
  {"transform":[{"filter":"datum.r != '4'"}],"mark":{"type":"text","align":"left","baseline":"middle","dy":4,"lineHeight":15,"font":"Liberation Serif","fontSize":12.5,"fontStyle":"italic","fontWeight":"bold","color":"#111"},"encoding":{"text":{"field":"sp"}}},
  {"transform":[{"filter":"datum.r != '4'"}],"mark":{"type":"text","align":"left","baseline":"middle","dy":4,"lineHeight":15,"font":"Liberation Serif","fontSize":12.5,"fontWeight":"bold","color":"#111"},"encoding":{"text":{"field":"st"}}},
  {"transform":[{"filter":"datum.r == '4'"}],"mark":{"type":"text","align":"left","baseline":"middle","dy":-5,"lineHeight":15,"font":"Liberation Serif","fontSize":12.5,"fontStyle":"italic","fontWeight":"bold","color":"#111"},"encoding":{"text":{"field":"sp"}}},
  {"transform":[{"filter":"datum.r == '4'"}],"mark":{"type":"text","align":"left","baseline":"middle","dy":-5,"lineHeight":15,"font":"Liberation Serif","fontSize":12.5,"fontWeight":"bold","color":"#111"},"encoding":{"text":{"field":"st"}}}
 ]}
],
"spacing":11.5,
"config":{
 "view":{"stroke":"#3a3a3a","strokeWidth":1.6},
 "legend":{"disable":true},
 "range":{"category":["#111111","#111111","#8c8c8c"]},
 "line":{"strokeWidth":1.6},
 "point":{"filled":true,"size":12,"opacity":1},
 "rule":{"color":"#8a8a8a","strokeDash":[4,3],"strokeWidth":1.1},
 "axis":{"domainColor":"#333333","domainWidth":1.4,"tickColor":"#333333","tickWidth":1.1,"labelFont":"Liberation Sans","labelFontWeight":"bold","labelColor":"#333333","grid":false},
 "axisY":{"offset":2,"labelFontSize":10,"labelPadding":1},
 "axisX":{"offset":4,"labelFontSize":10.5,"labelPadding":5,"labelFlush":false,"labelOverlap":false,"titleFont":"Liberation Sans","titleFontSize":10.5,"titleFontWeight":"normal","titleColor":"#333333","titlePadding":5},
 "title":{"font":"Lato","fontSize":18,"fontWeight":"normal","color":"#222222","offset":5,"dx":-6}
}
}
